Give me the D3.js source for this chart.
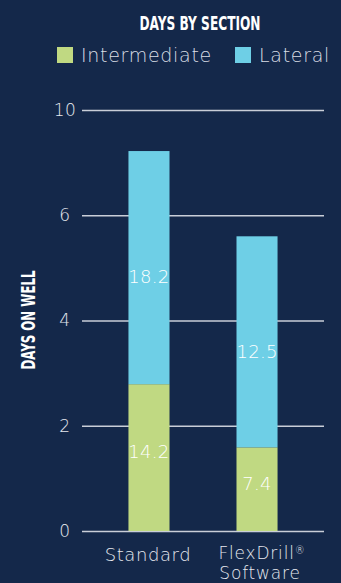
<!DOCTYPE html>
<html>
<head>
<meta charset="utf-8">
<script src="https://cdn.jsdelivr.net/npm/d3@7"></script>
<style>
  html, body { margin: 0; padding: 0; background: #14284a; }
  svg { display: block; }
</style>
</head>
<body>
<div id="chart-area"></div>
<script>
let width = 341;
let height = 583;

// data
const categories = ["Standard", "FlexDrill® Software"];
const intermediate = [2.79, 1.59];
const lateral = [4.43, 4.01];
const intermediateLabels = ["14.2", "7.4"];
const lateralLabels = ["18.2", "12.5"];
const tickValues = [0, 2, 4, 6, 8];
const tickLabels = ["0", "2", "4", "6", "10"];
const seriesNames = ["Intermediate", "Lateral"];
const seriesColors = ["#c0d982", "#6ecfe6"];

let bg = "#14284a";
let textColor = "#e6e9ef";
let font = "'DejaVu Sans', sans-serif";

let svg = d3.select("#chart-area")
	.append("svg")
	.attr("width", width)
	.attr("height", height)
	.style("background", bg);

let plotLeft = 82, plotRight = 324, plotTop = 110, plotBottom = 531;

let x = d3.scaleBand()
	.domain(categories)
	.range([plotLeft, plotRight])
	.paddingInner(0.62)
	.paddingOuter(0.43);

let y = d3.scaleLinear()
	.domain([0, 8])
	.range([plotBottom, plotTop]);

// gridlines + tick labels
let yAxis = d3.axisLeft(y)
	.tickValues(tickValues)
	.tickFormat((d, i) => tickLabels[i])
	.tickSize(-(plotRight - plotLeft));

let gy = svg.append("g")
	.attr("transform", `translate(${plotLeft},0)`)
	.call(yAxis);
gy.select(".domain").remove();
gy.selectAll(".tick line")
	.attr("stroke", "#c9ced8")
	.attr("stroke-width", 1.5);
gy.selectAll(".tick text")
	.attr("x", -17)
	.attr("text-anchor", "middle")
	.attr("fill", textColor)
	.style("font-family", font)
	.style("font-weight", 300)
	.style("font-size", "17px")
	.style("letter-spacing", "0.5px");

// stacked bars
let labelShift = [-6, 9]; // labels sit a little off the segment middle
let stacks = categories.map((c, i) => ({
	cat: c,
	parts: [
		{ y0: 0, y1: intermediate[i], color: seriesColors[0], label: intermediateLabels[i], s: 0 },
		{ y0: intermediate[i], y1: intermediate[i] + lateral[i], color: seriesColors[1], label: lateralLabels[i], s: 1 }
	]
}));

let barG = svg.selectAll(".bar")
	.data(stacks)
	.enter()
	.append("g")
	.attr("class", "bar");

barG.selectAll("rect")
	.data(d => d.parts.map(p => Object.assign({ cat: d.cat }, p)))
	.enter()
	.append("rect")
	.attr("x", d => x(d.cat))
	.attr("width", x.bandwidth())
	.attr("y", d => y(d.y1))
	.attr("height", d => y(d.y0) - y(d.y1))
	.attr("fill", d => d.color);

barG.selectAll("text")
	.data(d => d.parts.map(p => Object.assign({ cat: d.cat }, p)))
	.enter()
	.append("text")
	.attr("x", d => x(d.cat) + x.bandwidth() / 2)
	.attr("y", d => (y(d.y0) + y(d.y1)) / 2 + labelShift[d.s])
	.attr("dy", "0.38em")
	.attr("text-anchor", "middle")
	.attr("fill", "#ffffff")
	.style("font-family", font)
	.style("font-weight", 300)
	.style("font-size", "18px")
	.style("letter-spacing", "0.3px")
	.text(d => d.label);

// x labels
svg.append("text")
	.attr("x", x("Standard") + x.bandwidth() / 2 - 1)
	.attr("y", 561)
	.attr("text-anchor", "middle")
	.attr("fill", textColor)
	.style("font-family", font)
	.style("font-weight", 300)
	.style("font-size", "18px")
	.style("letter-spacing", "0.6px")
	.text("Standard");

let cx2 = x(categories[1]) + x.bandwidth() / 2;
let fx = svg.append("text")
	.attr("x", cx2 + 5)
	.attr("y", 559)
	.attr("text-anchor", "middle")
	.attr("fill", textColor)
	.style("font-family", font)
	.style("font-weight", 300)
	.style("font-size", "17px")
	.style("letter-spacing", "0.8px");
fx.append("tspan").text("FlexDrill");
fx.append("tspan").attr("dy", "-0.5em").style("font-size", "10px").text("®");
fx.append("tspan")
	.attr("x", cx2 + 3)
	.attr("y", 579)
	.text("Software");

// title
svg.append("text")
	.attr("x", 200)
	.attr("y", 30)
	.attr("text-anchor", "middle")
	.attr("fill", "#ffffff")
	.attr("textLength", 121)
	.attr("lengthAdjust", "spacingAndGlyphs")
	.style("font-family", "'Liberation Sans Narrow', 'DejaVu Sans Condensed', sans-serif")
	.style("font-weight", "bold")
	.style("font-size", "19px")
	.text("DAYS BY SECTION");

// y axis title
svg.append("text")
	.attr("transform", "translate(35,320) rotate(-90)")
	.attr("text-anchor", "middle")
	.attr("fill", "#ffffff")
	.attr("textLength", 99)
	.attr("lengthAdjust", "spacingAndGlyphs")
	.style("font-family", "'Liberation Sans Narrow', 'DejaVu Sans Condensed', sans-serif")
	.style("font-weight", "bold")
	.style("font-size", "20px")
	.text("DAYS ON WELL");

// legend
let legendX = [57, 235];
let legend = svg.selectAll(".legend")
	.data(seriesNames)
	.enter()
	.append("g")
	.attr("class", "legend")
	.attr("transform", (d, i) => `translate(${legendX[i]},47)`);

legend.append("rect")
	.attr("width", 16)
	.attr("height", 16)
	.attr("fill", (d, i) => seriesColors[i]);

legend.append("text")
	.attr("x", 24)
	.attr("y", 14.5)
	.attr("fill", "#d9dde5")
	.style("font-family", font)
	.style("font-weight", 300)
	.style("font-size", "19px")
	.style("letter-spacing", "0.7px")
	.text(d => d);
</script>
</body>
</html>
